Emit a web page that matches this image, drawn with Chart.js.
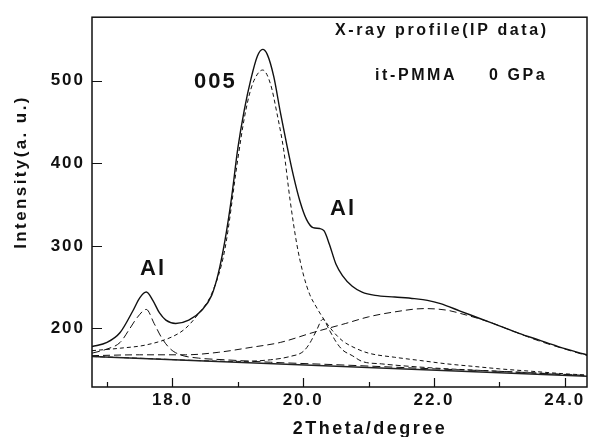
<!DOCTYPE html>
<html>
<head>
<meta charset="utf-8">
<script src="https://cdn.jsdelivr.net/npm/chart.js@4/dist/chart.umd.min.js"></script>
<style>
  html, body { margin: 0; padding: 0; background: #fff; }
  #wrap { width: 589px; height: 437px; }
</style>
</head>
<body>
<div id="wrap"><canvas id="chart" width="589" height="437"></canvas></div>
<script>
// axis ticks
const xTickValues = [18, 20, 22, 24];
const xMinorTicks = [17, 19, 21, 23];
const yTickValues = [200, 300, 400, 500];

// measured profile (solid)
const totalX = [16.77, 17.0, 17.2, 17.4, 17.5, 17.6, 17.7, 17.8, 17.9, 18.05, 18.25, 18.45, 18.6, 18.7, 18.8, 18.9,
  19.0, 19.1, 19.2, 19.3, 19.38, 19.45, 19.55, 19.65, 19.75, 19.85, 19.95, 20.05, 20.15, 20.25, 20.32, 20.4,
  20.5, 20.6, 20.75, 20.9, 21.1, 21.4, 21.7, 21.9, 22.1, 22.4, 22.7, 23.0, 23.3, 23.6, 23.9, 24.2, 24.34];
const totalY = [178, 183, 195, 222, 237, 244, 234, 219, 210, 206, 210, 222, 240, 266, 305, 356,
  418, 465, 502, 530, 538, 532, 505, 462, 422, 385, 354, 332, 322, 321, 318, 302,
  278, 264, 251, 244, 240, 238, 236, 234, 230, 221, 212, 203, 194, 186, 178, 171, 168];

// straight background line
const baseX = [16.77, 24.34];
const baseY = [166, 142];

// fitted components (dashed)
const p005X = [16.77, 17.2, 17.6, 18.0, 18.2, 18.4, 18.6, 18.8, 19.0, 19.1, 19.2, 19.3, 19.38, 19.5, 19.6, 19.7,
  19.8, 19.9, 20.0, 20.1, 20.2, 20.3, 20.45, 20.6, 20.8, 21.0, 21.4, 21.8, 22.2, 22.6, 23.0, 23.5, 24.0, 24.34];
const p005Y = [173, 176, 180, 190, 200, 218, 242, 295, 405, 455, 490, 508, 513, 496, 460, 417,
  355, 303, 266, 241, 226, 213, 197, 185, 176, 170, 165, 161, 157, 154, 151, 148, 145, 143.5];

const al1X = [16.77, 17.0, 17.2, 17.35, 17.46, 17.6, 17.72, 17.84, 17.97, 18.12, 18.4, 18.8, 19.5, 20.5, 22.0, 23.0, 24.34];
const al1Y = [170, 175, 183, 200, 213, 223, 206, 188, 175, 168, 164, 162, 159, 156, 151, 148, 143];

const amorX = [16.77, 17.5, 18.2, 18.7, 19.2, 19.65, 20.15, 20.65, 21.0, 21.4, 21.85, 22.2, 22.5, 22.8, 23.2, 23.6, 24.0, 24.34];
const amorY = [167, 168, 168, 171, 177, 183, 195, 206, 214, 220, 224, 222, 216, 209, 197, 185, 175, 167];

const al2X = [16.77, 17.6, 18.4, 19.0, 19.5, 19.8, 20.0, 20.1, 20.2, 20.3, 20.4, 20.5, 20.6, 20.75, 20.9, 21.2, 22.0, 23.0, 24.34];
const al2Y = [166, 163.5, 161, 160, 162, 166, 172, 182, 197, 211, 198, 184, 174, 167, 160, 157, 152, 148, 142.5];

function pts(xs, ys) {
    return xs.map((x, i) => ({ x: x, y: ys[i] }));
}

function curve(xs, ys, dash, width) {
    return {
        data: pts(xs, ys),
        borderColor: '#111',
        borderWidth: width,
        borderDash: dash,
        pointRadius: 0,
        fill: false,
        cubicInterpolationMode: 'monotone'
    };
}

const FONT = '"Liberation Sans", Arial, sans-serif';

const frame = {
    id: 'frame',
    beforeDraw(chart) {
        chart.ctx.letterSpacing = '2px';
    },
    afterDraw(chart) {
        const ctx = chart.ctx;
        const a = chart.chartArea;
        const xs = chart.scales.x, ys = chart.scales.y;
        ctx.save();
        ctx.strokeStyle = '#111';
        ctx.setLineDash([]);
        ctx.lineWidth = 1.5;
        ctx.strokeRect(a.left, a.top, a.right - a.left, a.bottom - a.top);
        ctx.lineWidth = 1.2;
        ctx.beginPath();
        xTickValues.forEach(v => {
            const p = Math.round(xs.getPixelForValue(v)) + 0.5;
            ctx.moveTo(p, a.bottom); ctx.lineTo(p, a.bottom - 9);
        });
        xMinorTicks.forEach(v => {
            const p = Math.round(xs.getPixelForValue(v)) + 0.5;
            ctx.moveTo(p, a.bottom); ctx.lineTo(p, a.bottom - 5);
        });
        yTickValues.forEach(v => {
            const p = Math.round(ys.getPixelForValue(v)) + 0.5;
            ctx.moveTo(a.left, p); ctx.lineTo(a.left + 10, p);
        });
        ctx.stroke();

        ctx.fillStyle = '#111';
        ctx.textBaseline = 'alphabetic';

        // axis titles
        ctx.font = 'bold 18px ' + FONT;
        ctx.letterSpacing = '2.5px';
        ctx.textAlign = 'center';
        ctx.fillText('2Theta/degree', 370, 434);
        ctx.save();
        ctx.translate(26, 172);
        ctx.rotate(-Math.PI / 2);
        ctx.font = 'bold 17px ' + FONT;
        ctx.letterSpacing = '2.4px';
        ctx.fillText('Intensity(a. u.)', 0, 0);
        ctx.restore();

        // annotations
        ctx.textAlign = 'left';
        ctx.font = 'bold 16px ' + FONT;
        ctx.letterSpacing = '2.6px';
        ctx.fillText('X-ray profile(IP data)', 335, 35);
        ctx.fillText('it-PMMA', 375, 80);
        ctx.fillText('0 GPa', 489, 80);

        ctx.font = 'bold 22px ' + FONT;
        ctx.letterSpacing = '2px';
        ctx.fillText('005', 194, 88);
        ctx.fillText('Al', 140, 275);
        ctx.fillText('Al', 330, 215);
        ctx.restore();
    }
};

new Chart(document.getElementById('chart').getContext('2d'), {
    type: 'line',
    data: {
        datasets: [
            curve(totalX, totalY, [], 1.4),
            { ...curve(baseX, baseY, [], 1.4), cubicInterpolationMode: 'default', borderColor: '#222' },
            curve(p005X, p005Y, [4, 3], 1),
            curve(al1X, al1Y, [8, 4], 1),
            curve(amorX, amorY, [7, 4], 1),
            curve(al2X, al2Y, [5, 3], 1)
        ]
    },
    options: {
        responsive: false,
        animation: false,
        layout: { padding: { top: 13, right: 2, left: 0, bottom: 0 } },
        plugins: {
            legend: { display: false },
            tooltip: { enabled: false }
        },
        scales: {
            x: {
                type: 'linear',
                min: 16.77,
                max: 24.34,
                afterBuildTicks: scale => { scale.ticks = xTickValues.map(v => ({ value: v })); },
                afterFit: scale => { scale.height = 50; },
                grid: { display: false, drawTicks: false },
                border: { display: false },
                ticks: {
                    padding: 3,
                    maxRotation: 0,
                    color: '#111',
                    font: { family: FONT, size: 17, weight: 'bold' },
                    callback: v => v.toFixed(1)
                }
            },
            y: {
                min: 129,
                max: 577,
                afterBuildTicks: scale => { scale.ticks = yTickValues.map(v => ({ value: v })); },
                afterFit: scale => { scale.width = 92; },
                grid: { display: false, drawTicks: false },
                border: { display: false },
                ticks: {
                    padding: 7,
                    color: '#111',
                    font: { family: FONT, size: 17, weight: 'bold' }
                }
            }
        }
    },
    plugins: [frame]
});
</script>
</body>
</html>
